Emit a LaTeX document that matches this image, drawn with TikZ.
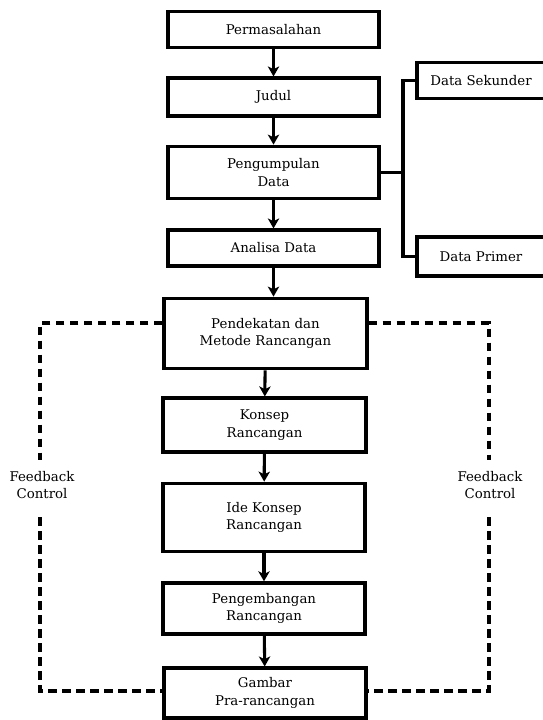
\documentclass[tikz,border=0pt]{standalone}
\usepackage{fontspec}
\setmainfont{DejaVu Serif}
\usetikzlibrary{arrows.meta, positioning}

\begin{document}
\begin{tikzpicture}[>={Stealth[length=7.5pt,width=8.5pt,inset=2pt]}, x=0.75pt, y=-0.75pt, font=\fontsize{10}{13}\selectfont]
        \tikzstyle{kotak}=[draw=black, line width=2.8pt, align=center, inner sep=0pt, text=black]
        \tikzstyle{alur}=[->, line width=2.3pt]
        \tikzstyle{umpan}=[line width=2.5pt, dash pattern=on 6.5pt off 4pt]
        \useasboundingbox (0,0) rectangle (542,720);
        % alur utama
        \node[kotak, minimum width=158pt, minimum height=27pt] (masalah) at (273.5,29.5) {Permasalahan};
        \node[kotak, minimum width=158pt, minimum height=28pt] (judul) at (273.5,97) {Judul};
        \node[kotak, minimum width=158pt, minimum height=39pt] (kumpul) at (273.5,172.5) {Pengumpulan\\Data};
        \node[kotak, minimum width=158pt, minimum height=26.5pt] (analisa) at (273.5,248) {Analisa Data};
        \node[kotak, minimum width=152pt, minimum height=52.5pt] (pendekatan) at (265.5,333.5) {Pendekatan dan\\Metode Rancangan};
        \node[kotak, minimum width=152pt, minimum height=40pt] (konsep) at (264.5,425) {Konsep\\Rancangan};
        \node[kotak, minimum width=151pt, minimum height=51pt] (ide) at (264,517.5) {Ide Konsep\\Rancangan};
        \node[kotak, minimum width=151pt, minimum height=38pt] (kembang) at (264,608.5) {Pengembangan\\Rancangan};
        \node[kotak, minimum width=151pt, minimum height=37pt] (gambar) at (265,693) {Gambar\\Pra-rancangan};
        % data
        \node[kotak, minimum width=96pt, minimum height=27pt] (sekunder) at (481,80.5) {Data Sekunder};
        \node[kotak, minimum width=96pt, minimum height=29pt] (primer) at (481,256.5) {Data Primer};
        % feedback
        \node[align=center] (fbkiri) at (42,485) {Feedback\\Control};
        \node[align=center] (fbkanan) at (490,485) {Feedback\\Control};
        \coordinate (cabang) at (403,172.5);
        \coordinate (kiriatas) at (40,323);
        \coordinate (kiritengah) at (40,460);
        \coordinate (kiribawah) at (40,517);
        \coordinate (kirisudut) at (40,691);
        \coordinate (kananatas) at (489,323);
        \coordinate (kanantengah) at (489,460);
        \coordinate (kananbawah) at (489,517);
        \coordinate (kanansudut) at (489,691);

        \path[alur]
        (masalah) edge (judul)
        (judul) edge (kumpul)
        (kumpul) edge (analisa)
        (analisa.south) edge (analisa.south |- pendekatan.north)
        (pendekatan) edge (konsep)
        (konsep) edge (ide)
        (ide) edge (kembang)
        (kembang) edge (gambar);

        \draw[line width=2.3pt] (kumpul.east) -- (cabang) |- (sekunder.west);
        \draw[line width=2.3pt] (cabang) |- (primer.west);

        \draw[umpan] (pendekatan.west |- kiriatas) -- (kiriatas) -- (kiritengah);
        \draw[umpan] (kiribawah) -- (kirisudut) -- (gambar.west |- kirisudut);
        \draw[umpan] (pendekatan.east |- kananatas) -- (kananatas) -- (kanantengah);
        \draw[umpan] (kananbawah) -- (kanansudut) -- (gambar.east |- kanansudut);
      \end{tikzpicture}
\end{document}
